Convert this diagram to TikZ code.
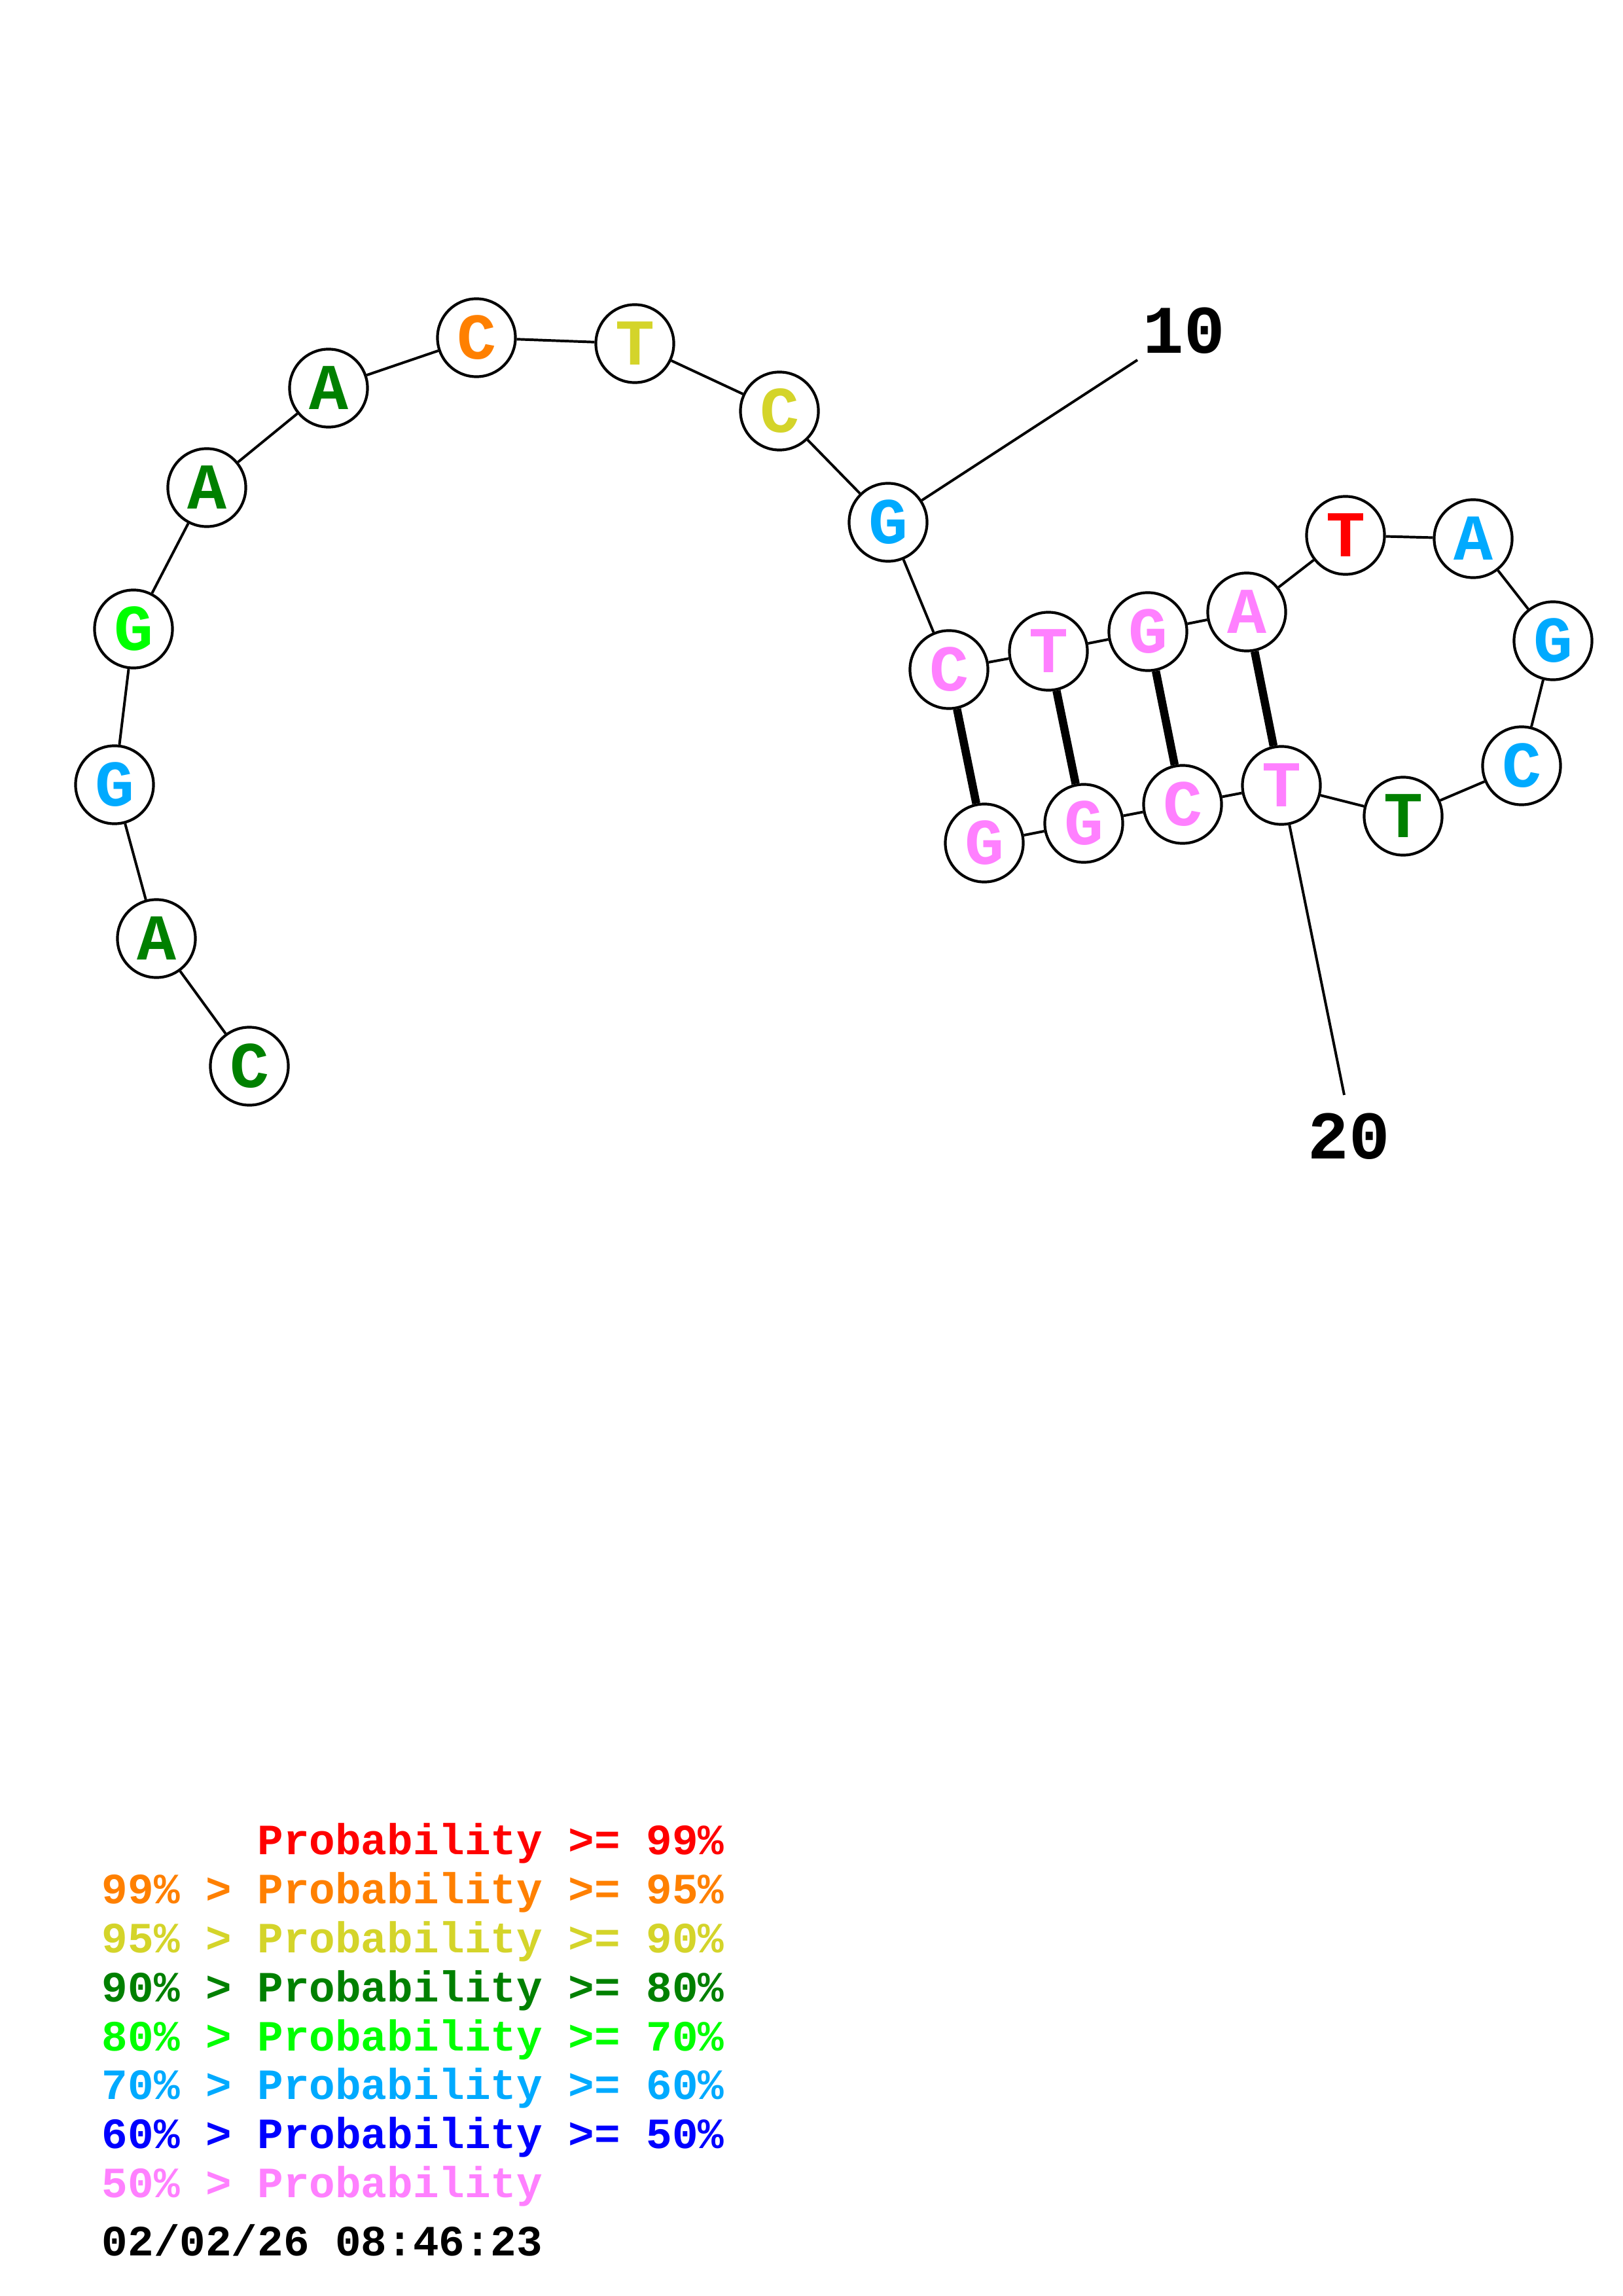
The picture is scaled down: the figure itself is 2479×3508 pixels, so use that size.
\documentclass[tikz,border=0pt]{standalone}
\usepackage{fontspec}
\newfontfamily\cour{Liberation Mono}
\definecolor{pRed}{RGB}{255,0,0}
\definecolor{pOrange}{RGB}{255,128,0}
\definecolor{pYellow}{RGB}{212,212,42}
\definecolor{pDkGreen}{RGB}{0,128,0}
\definecolor{pGreen}{RGB}{0,255,0}
\definecolor{pSky}{RGB}{0,170,255}
\definecolor{pBlue}{RGB}{0,0,255}
\definecolor{pPink}{RGB}{255,128,255}
\begin{document}
\begin{tikzpicture}[x=0.24014pt,y=-0.24014pt,
  nt/.style={circle,draw=black,line width=1pt,fill=white,minimum size=28.6pt,inner sep=0pt,
    font=\cour\bfseries\fontsize{24}{24}\selectfont},
  bb/.style={line width=0.95pt,draw=black},
  bpair/.style={line width=3pt,draw=black},
  numlab/.style={inner sep=0pt,font=\cour\bfseries\fontsize{25}{25}\selectfont},
  leg/.style={inner sep=0pt,anchor=base west,font=\cour\bfseries\fontsize{15.85}{15.85}\selectfont}]
\useasboundingbox (0,0) rectangle (2479,3508);
\fill[white] (0,0) rectangle (2479,3508);
\coordinate (l10) at (1738,550);
\coordinate (l20) at (2054,1673);
% nucleotides
\node[nt,text=pDkGreen] (n1) at (381,1629) {C};
\node[nt,text=pDkGreen] (n2) at (239,1434) {A};
\node[nt,text=pSky] (n3) at (175,1199) {G};
\node[nt,text=pGreen] (n4) at (204,961) {G};
\node[nt,text=pDkGreen] (n5) at (316,745) {A};
\node[nt,text=pDkGreen] (n6) at (502,593) {A};
\node[nt,text=pOrange] (n7) at (728,516) {C};
\node[nt,text=pYellow] (n8) at (970,525) {T};
\node[nt,text=pYellow] (n9) at (1191,628) {C};
\node[nt,text=pSky] (n10) at (1357,798) {G};
\node[nt,text=pPink] (n11) at (1450,1023) {C};
\node[nt,text=pPink] (n12) at (1602,995) {T};
\node[nt,text=pPink] (n13) at (1754,965) {G};
\node[nt,text=pPink] (n14) at (1905,935) {A};
\node[nt,text=pRed] (n15) at (2056,818) {T};
\node[nt,text=pSky] (n16) at (2251,823) {A};
\node[nt,text=pSky] (n17) at (2373,979) {G};
\node[nt,text=pSky] (n18) at (2325,1170) {C};
\node[nt,text=pDkGreen] (n19) at (2144,1247) {T};
\node[nt,text=pPink] (n20) at (1958,1200) {T};
\node[nt,text=pPink] (n21) at (1807,1229) {C};
\node[nt,text=pPink] (n22) at (1656,1258) {G};
\node[nt,text=pPink] (n23) at (1504,1288) {G};
% backbone
\foreach \a/\b in {1/2,2/3,3/4,4/5,5/6,6/7,7/8,8/9,9/10,10/11,11/12,12/13,13/14,14/15,15/16,16/17,17/18,18/19,19/20,20/21,21/22,22/23}
  \draw[bb] (n\a) -- (n\b);
% base pairs
\draw[bpair] (n11) -- (n23);
\draw[bpair] (n12) -- (n22);
\draw[bpair] (n13) -- (n21);
\draw[bpair] (n14) -- (n20);
% number labels
\draw[bb] (n10) -- (l10);
\draw[bb] (n20) -- (l20);
\node[numlab] (t10) at (1809,505) {10};
\node[numlab] (t20) at (2061,1736) {20};
% legend
\node[leg,text=pRed] (g1) at (155,2833) {\phantom{99\% > }Probability >= 99\%};
\node[leg,text=pOrange] (g2) at (155,2908) {99\% > Probability >= 95\%};
\node[leg,text=pYellow] (g3) at (155,2983) {95\% > Probability >= 90\%};
\node[leg,text=pDkGreen] (g4) at (155,3058) {90\% > Probability >= 80\%};
\node[leg,text=pGreen] (g5) at (155,3133) {80\% > Probability >= 70\%};
\node[leg,text=pSky] (g6) at (155,3207) {70\% > Probability >= 60\%};
\node[leg,text=pBlue] (g7) at (155,3282) {60\% > Probability >= 50\%};
\node[leg,text=pPink] (g8) at (155,3357) {50\% > Probability};
\node[leg,text=black] (g9) at (155,3446) {02/02/26 08:46:23};
\end{tikzpicture}
\end{document}
